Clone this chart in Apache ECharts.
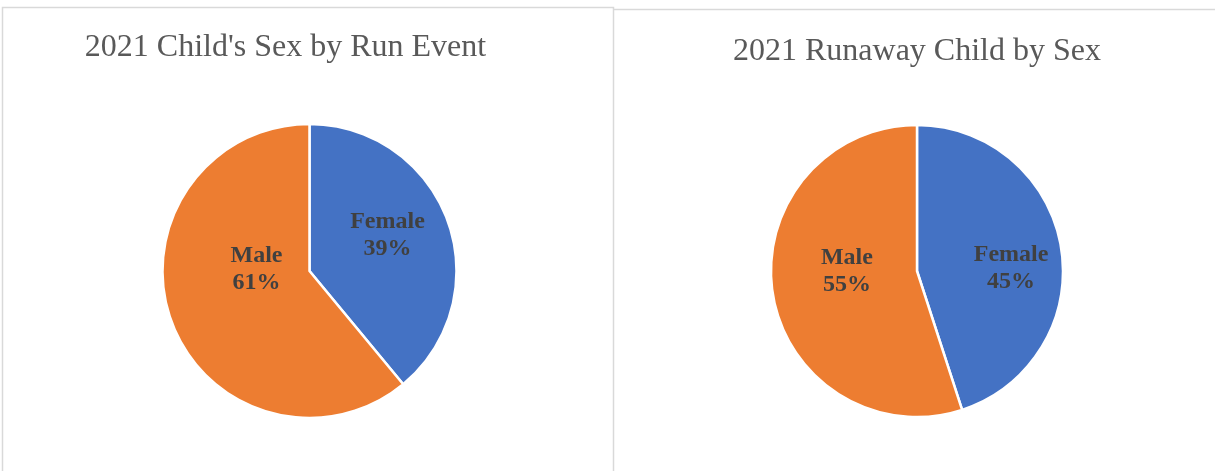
<!DOCTYPE html>
<html>
<head>
<meta charset="utf-8">
<script src="https://cdn.jsdelivr.net/npm/echarts@6/dist/echarts.min.js"></script>
<style>html,body{margin:0;padding:0;background:#fff}#c{width:1215px;height:471px}</style>
</head>
<body>
<div id="c"></div>
<script>
const categories = ['Female', 'Male'];
const runEventValues = [39, 61];
const runawayValues = [45, 55];
const titles = ["2021 Child's Sex by Run Event", '2021 Runaway Child by Sex'];
const colors = ['#4472C4', '#ED7D31'];

const chart = echarts.init(document.getElementById('c'), null, {renderer: 'canvas'});
const labelStyle = {
  show: true, position: 'inside', formatter: '{b}\n{d}%',
  fontFamily: 'Liberation Serif', fontWeight: 'bold', fontSize: 24,
  lineHeight: 27, color: '#404040'
};
function mk(vals, offsets) {
  return categories.map((c, i) => ({
    name: c, value: vals[i],
    itemStyle: {color: colors[i]},
    label: {offset: offsets[i]}
  }));
}
chart.setOption({
  animation: false,
  title: [
    {text: titles[0], left: 280.5, top: 27, textAlign: 'center',
     textStyle: {fontFamily: 'Liberation Serif', fontWeight: 'normal', fontSize: 32, color: '#595959'}},
    {text: titles[1], left: 912, top: 31, textAlign: 'center',
     textStyle: {fontFamily: 'Liberation Serif', fontWeight: 'normal', fontSize: 32, color: '#595959'}}
  ],
  graphic: [
    {type: 'rect', shape: {x: 2.5, y: 7.5, width: 611, height: 480},
     style: {fill: 'none', stroke: '#d9d9d9', lineWidth: 1.5}, z: -1},
    {type: 'line', shape: {x1: 614, y1: 9.5, x2: 1215, y2: 9.5},
     style: {stroke: '#d9d9d9', lineWidth: 1.5}, z: -1}
  ],
  series: [
    {type: 'pie', center: [309.5, 271], radius: 147, startAngle: 90, clockwise: true,
     itemStyle: {borderColor: '#fff', borderWidth: 2.5}, label: labelStyle,
     labelLine: {show: false}, emphasis: {disabled: true},
     data: mk(runEventValues, [[6, -10], [19, -28]])},
    {type: 'pie', center: [917, 271], radius: 146, startAngle: 90, clockwise: true,
     itemStyle: {borderColor: '#fff', borderWidth: 2.5}, label: labelStyle,
     labelLine: {show: false}, emphasis: {disabled: true},
     data: mk(runawayValues, [[19, 9], [5, -12]])}
  ]
});
</script>
</body>
</html>
